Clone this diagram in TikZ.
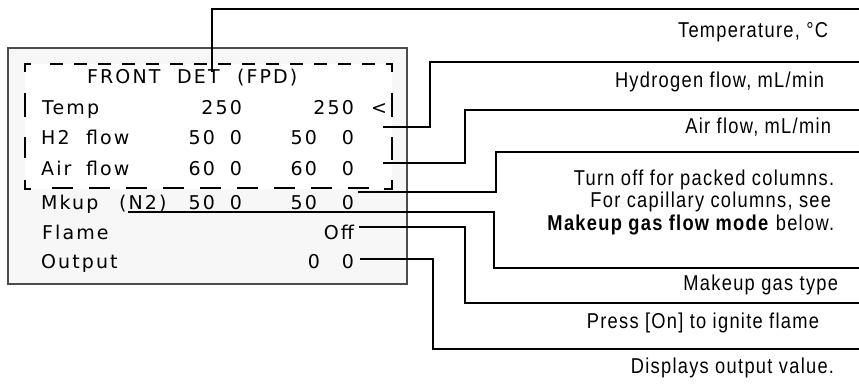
\documentclass[tikz,border=0pt]{standalone}
\usepackage{fontspec}
\setmainfont{Liberation Sans}
\newfontfamily\lcd[LetterSpace=11]{DejaVu Sans}
\newfontfamily\cond[FakeStretch=0.85,LetterSpace=6]{Liberation Sans}
\begin{document}
\begin{tikzpicture}[x=1pt,y=-1pt,
  lead/.style={line width=2pt, line join=miter},
  dbox/.style={line width=1.6pt},
  lbl/.style={font=\cond\fontsize{21.5}{24}\selectfont, inner sep=0pt, anchor=base east, xshift=1.3pt},
  lcdl/.style={font=\lcd\fontsize{19}{21}\selectfont, inner sep=0pt, anchor=base west},
  lcdr/.style={font=\lcd\fontsize{19}{21}\selectfont, inner sep=0pt, anchor=base east, xshift=2.1pt}]
\useasboundingbox (0,0) rectangle (859,383);
% display frame
\draw[draw=gray!60!black, line width=1.3pt, fill=gray!6] (8,48) rectangle (407,284);
\fill[white] (25,64) rectangle (392,189);
% display text
\node[lcdl] (t0a) at (87,83) {FRONT};
\node[lcdl] (t0b) at (177,83) {DET};
\node[lcdl] (t0c) at (237,83) {(FPD)};
\node[lcdl] (t1a) at (42,114) {Temp};
\node[lcdr] (t1b) at (240,114) {250};
\node[lcdr] (t1c) at (352,114) {250};
\node[lcdl] (t1d) at (371,114) {<};
\node[lcdl] (t2a) at (41,144) {H2};
\node[lcdl] (t2b) at (86,144) {flow};
\node[lcdr] (t2c) at (213,144) {50};
\node[lcdr] (t2d) at (240,144) {0};
\node[lcdr] (t2e) at (315,144) {50};
\node[lcdr] (t2f) at (352,144) {0};
\node[lcdl] (t3a) at (41,175) {Air};
\node[lcdl] (t3b) at (86,175) {flow};
\node[lcdr] (t3c) at (213,175) {60};
\node[lcdr] (t3d) at (240,175) {0};
\node[lcdr] (t3e) at (315,175) {60};
\node[lcdr] (t3f) at (352,175) {0};
\node[lcdl] (t4a) at (41,209) {Mkup};
\node[lcdl] (t4b) at (119,209) {(N2)};
\node[lcdr] (t4c) at (213,209) {50};
\node[lcdr] (t4d) at (240,209) {0};
\node[lcdr] (t4e) at (315,209) {50};
\node[lcdr] (t4f) at (352,209) {0};
\node[lcdl] (t5a) at (42,239) {Flame};
\node[lcdr] (t5b) at (352,239) {Off};
\node[lcdl] (t6a) at (41,268) {Output};
\node[lcdr] (t6b) at (318,268) {0};
\node[lcdr] (t6c) at (352,268) {0};
% dashed frame
\draw[dbox] (25,72) -- (25,64) -- (31,64);
\draw[dbox] (386,64) -- (392,64) -- (392,72);
\draw[dbox, dash pattern=on 13pt off 11pt] (50,64) -- (382,64);
\draw[dbox] (25,93) -- (25,117) (25,137) -- (25,158);
\draw[dbox] (392,93) -- (392,117) (392,137) -- (392,160);
\draw[dbox] (25,180) -- (25,189) -- (31,189);
\draw[dbox] (384,189) -- (392,189) -- (392,180);
\draw[dbox, dash pattern=on 21pt off 16pt] (52,188) -- (378,188);
% callout labels
\node[lbl] (c1) at (827,37) {Temperature, °C};
\node[lbl] (c2) at (823,87) {Hydrogen flow, mL/min};
\node[lbl] (c3) at (830,133) {Air flow, mL/min};
\node[lbl] (c4a) at (833,185) {Turn off for packed columns.};
\node[lbl] (c4b) at (830,207) {For capillary columns, see};
\node[lbl] (c4c) at (833,230) {\textbf{Makeup gas flow mode} below.};
\node[lbl] (c5) at (837,290) {Makeup gas type};
\node[lbl] (c6) at (818,328) {Press [On] to ignite flame};
\node[lbl] (c7) at (833,373) {Displays output value.};
% leaders
\coordinate (s1) at (212,72);  \coordinate (e1) at (859,9);
\coordinate (s2) at (383,127); \coordinate (e2) at (859,62);
\coordinate (s3) at (383,163); \coordinate (e3) at (859,110);
\coordinate (s4) at (358,192); \coordinate (e4) at (859,152);
\coordinate (s5) at (128,212); \coordinate (e5) at (859,268);
\coordinate (s6) at (359,227); \coordinate (e6) at (859,303);
\coordinate (s7) at (360,259); \coordinate (e7) at (859,349);
\draw[lead] (s1) |- (e1);
\draw[lead] (s2) -| (430,62) -- (e2);
\draw[lead] (s3) -| (465,110) -- (e3);
\draw[lead] (s4) -| (496,152) -- (e4);
\draw[lead] (s5) -| (494,268) -- (e5);
\draw[lead] (s6) -| (465,303) -- (e6);
\draw[lead] (s7) -| (433,349) -- (e7);
\end{tikzpicture}
\end{document}
